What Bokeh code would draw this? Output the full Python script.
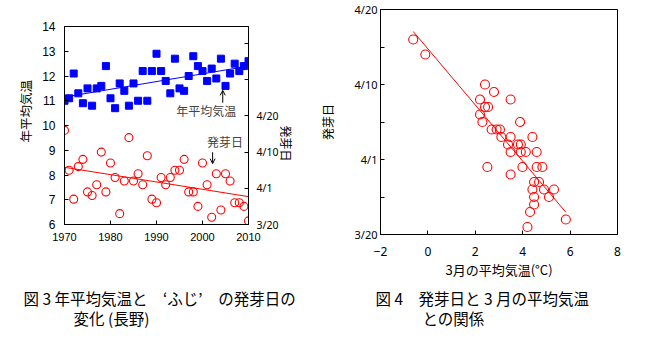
import math
from bokeh.plotting import figure
from bokeh.layouts import row, column
from bokeh.models import Range1d, LinearAxis, FixedTicker, Label, Arrow, OpenHead, Title
from bokeh.embed import file_html
from bokeh.resources import INLINE

# ---------------- data ----------------
years = list(range(1970, 2011))
annual_temp = [11.0, 11.1, 12.1, 11.3, 10.9, 11.5, 10.8, 11.5, 11.6, 12.4,
               11.1, 10.7, 11.7, 11.4, 10.8, 11.7, 11.0, 12.2, 11.0, 12.2,
               12.9, 12.2, 11.8, 11.3, 12.7, 11.5, 11.4, 12.0, 12.8, 12.4,
               12.2, 11.8, 12.3, 11.9, 12.7, 11.6, 12.1, 12.5, 12.2, 12.4,
               12.6]
# budding date, on the chart's date scale (3/20 = 0, 4/1 = 10, 4/10 = 20, 4/20 = 30)
bud_index = [26, 15, 7, 16, 18, 9, 8, 11, 20, 9,
             17, 13, 3, 12, 24, 12, 14, 11, 19, 7,
             6, 13, 11, 13, 15, 15, 18, 9, 9, 5,
             17, 11, 2, 14, 4, 14, 12, 6, 6, 5,
             1]
temp_fit_years = [1970, 2010]
temp_fit_vals = [11.15, 12.4]
bud_fit_years = [1970, 2010]
bud_fit_vals = [15.8, 7.7]

march_temp = [-0.62, -0.11, 2.41, 2.79, 2.20, 3.49, 2.41, 2.54, 2.20, 2.30,
              3.89, 2.69, 2.90, 3.04, 3.10, 3.49, 4.41, 3.38, 3.80, 3.92,
              3.49, 3.92, 4.13, 4.59, 2.51, 3.99, 4.59, 4.83, 3.49, 4.48,
              4.69, 4.41, 4.90, 5.32, 4.48, 5.11, 4.48, 4.31, 5.82, 4.20]
march_bud = [26, 24, 20, 19, 18, 18, 17, 17, 16, 15,
             15, 14, 14, 14, 13, 13, 13, 12, 12, 12,
             11, 11, 11, 11, 9, 9, 9, 9, 8, 7,
             7, 6, 6, 6, 5, 5, 4, 3, 2, 1]
march_fit_x = [-0.62, 5.82]
march_fit_y = [27.07, 2.97]

year_ticks = [1970, 1980, 1990, 2000, 2010]
temp_ticks = [6, 7, 8, 9, 10, 11, 12, 13, 14]
date_ticks = [0, 10, 20, 30, 40, 50]
date_labels = {0: "3/20", 10: "4/1", 20: "4/10", 30: "4/20", 40: "", 50: ""}
date_ticks2 = [0, 5, 10, 15, 20, 25, 30]
date_labels2 = {0: "3/20", 5: "", 10: "4/1", 15: "", 20: "4/10", 25: "", 30: "4/20"}
mt_ticks = [-2, 0, 2, 4, 6, 8]
mt_labels = {-2: "\u22122"}

caption3 = ["図 3 年平均気温と　‘ふじ’　の発芽日の", "変化 (長野)"]
caption4 = ["図 4　発芽日と 3 月の平均気温", "との関係"]

JP = "Noto Sans CJK JP"
NUM = "Liberation Sans"


def style_axis(ax, font, size="11px", standoff=8):
    ax.major_tick_in = 4
    ax.major_tick_out = 0
    ax.minor_tick_in = 0
    ax.minor_tick_out = 0
    ax.axis_line_color = "black"
    ax.major_tick_line_color = "black"
    ax.major_label_text_font = font
    ax.major_label_text_font_size = size
    ax.major_label_text_color = "black"
    ax.major_label_standoff = standoff
    ax.axis_label_text_font = JP
    ax.axis_label_text_font_style = "normal"
    ax.axis_label_text_color = "black"


TOP_H = 286

# ---------------- figure 3 ----------------
p1 = figure(width=310, height=TOP_H, x_range=Range1d(1970, 2010), y_range=Range1d(6, 14),
            output_backend="svg", toolbar_location=None,
            min_border_left=64, min_border_right=62, min_border_top=26,
            min_border_bottom=TOP_H - 224)
p1.title.visible = False
p1.frame_align = False
p1.extra_y_ranges = {"bud": Range1d(0, 54.7)}
p1.xgrid.visible = False
p1.ygrid.visible = False
p1.outline_line_color = "black"
p1.xaxis.ticker = FixedTicker(ticks=year_ticks)
p1.yaxis.ticker = FixedTicker(ticks=temp_ticks)
style_axis(p1.xaxis[0], NUM, "11px", 8)
style_axis(p1.yaxis[0], NUM, "12px", 9)
rax = LinearAxis(y_range_name="bud", ticker=FixedTicker(ticks=date_ticks),
                 major_label_overrides=date_labels)
style_axis(rax, "Noto Sans", "10.5px", 8)
rax.axis_label = "発芽日　　　　　　"
rax.axis_label_orientation = -math.pi / 2
rax.axis_label_text_font_size = "12px"
rax.axis_label_standoff = 5
p1.add_layout(rax, "right")

p1.add_layout(Title(text="年平均気温", align="left", offset=82, standoff=10,
                    text_font=JP, text_font_size="12.5px", text_font_style="normal",
                    text_color="black"), "left")

p1.line(temp_fit_years, temp_fit_vals, line_color="#0000FF", line_width=1)
p1.line(bud_fit_years, bud_fit_vals, y_range_name="bud", line_color="#FF0000", line_width=1)
p1.scatter(years, annual_temp, marker="square", size=7, fill_color="#0000FF", line_color="#0000FF")
p1.scatter(years, bud_index, y_range_name="bud", marker="circle", size=8,
           fill_color=None, line_color="#FF0000", line_width=1.1)

p1.add_layout(Label(x=2000.8, y=10.6, text="年平均気温", text_align="center",
                    text_baseline="middle", text_font=JP, text_font_size="12px"))
p1.add_layout(Arrow(end=OpenHead(size=5, line_width=1, line_color="black"),
                    x_start=2004.4, y_start=10.92, x_end=2004.4, y_end=11.42,
                    line_width=1, line_color="black"))
p1.add_layout(Label(x=2004.9, y=9.36, text="発芽日", text_align="center",
                    text_baseline="middle", text_font=JP, text_font_size="12px"))
p1.add_layout(Arrow(end=OpenHead(size=5, line_width=1, line_color="black"),
                    x_start=2002.2, y_start=8.92, x_end=2002.2, y_end=8.46,
                    line_width=1, line_color="black"))

# ---------------- figure 4 ----------------
p2 = figure(width=346, height=TOP_H, x_range=Range1d(-2, 8), y_range=Range1d(0, 30),
            output_backend="svg", toolbar_location=None,
            min_border_left=70, min_border_right=39, min_border_top=9,
            min_border_bottom=TOP_H - 234)
p2.title.visible = False
p2.frame_align = False
p2.xgrid.visible = False
p2.ygrid.visible = False
p2.outline_line_color = "black"
p2.xaxis.ticker = FixedTicker(ticks=mt_ticks)
p2.xaxis.major_label_overrides = mt_labels
p2.yaxis.ticker = FixedTicker(ticks=date_ticks2)
p2.yaxis.major_label_overrides = date_labels2
style_axis(p2.xaxis[0], "Noto Sans", "12px", 12)
style_axis(p2.yaxis[0], "Noto Sans", "11px", 3)
p2.xaxis.axis_label = "3月の平均気温(°C)"
p2.xaxis.axis_label_text_font_size = "13px"
p2.xaxis.axis_label_standoff = 1
p2.yaxis.axis_label = "発芽日"
p2.yaxis.axis_label_text_font_size = "12px"
p2.yaxis.axis_label_standoff = 16

p2.line(march_fit_x, march_fit_y, line_color="#FF0000", line_width=1)
p2.scatter(march_temp, march_bud, marker="circle", size=9, fill_color=None,
           line_color="#FF0000", line_width=1.1)

# ---------------- captions ----------------
CAP_H = 338 - TOP_H
cap = figure(width=656, height=CAP_H, x_range=Range1d(0, 656), y_range=Range1d(CAP_H, 0),
             x_axis_type=None, y_axis_type=None, output_backend="svg",
             toolbar_location=None, min_border=0)
cap.title.visible = False
cap.outline_line_color = None
y1 = 297 - TOP_H
y2 = 317 - TOP_H
cap_pos = [(23, y1), (73, y2)]
cap_pos4 = [(375, y1), (422, y2)]
for txt, (cx, cy) in zip(caption3, cap_pos):
    cap.add_layout(Label(x=cx, y=cy, text=txt, text_align="left", text_baseline="middle",
                         text_font=JP, text_font_size="15.5px", text_color="black"))
for txt, (cx, cy) in zip(caption4, cap_pos4):
    cap.add_layout(Label(x=cx, y=cy, text=txt, text_align="left", text_baseline="middle",
                         text_font=JP, text_font_size="15.5px", text_color="black"))

layout = column(row(p1, p2), cap)
open("out.html", "w").write(file_html(layout, INLINE))
